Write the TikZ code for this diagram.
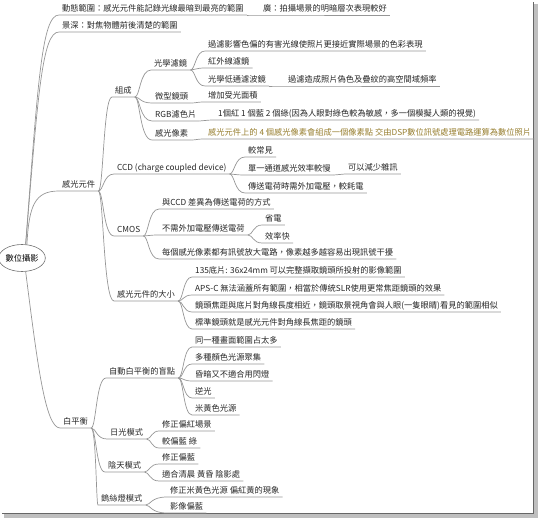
\documentclass[tikz,border=0pt]{standalone}
\usepackage{fontspec}
\newfontfamily\tcfont{Noto Sans CJK TC}
\usetikzlibrary{calc,shapes.geometric}

\definecolor{linkgray}{RGB}{150,150,150}
\definecolor{notebrown}{RGB}{150,125,45}

\tikzset{
  topic/.style={anchor=south west, inner xsep=3pt, inner ysep=2pt,
    text height=7pt, text depth=1.5pt, text=black!85,
    font=\tcfont\fontsize{8.25}{10}\selectfont},
  center topic/.style={ellipse, draw=black!55, line width=0.6pt,
    minimum width=44pt, minimum height=27pt, inner sep=0pt,
    font=\tcfont\fontsize{8.25}{10}\selectfont},
  link/.style={draw=linkgray, line width=0.7pt},
  twig/.style={link, to path={(\tikztostart.south east)
      .. controls ($(\tikztostart.south east)+(5,0)$)
      and ($(\tikztostart.south east |- \tikztotarget.south west)+(5,0)$)
      .. (\tikztotarget.south west) -- (\tikztotarget.south east)}}
}

\begin{document}
\begin{tikzpicture}[x=1pt,y=-1pt,every edge/.style={twig}]
    \useasboundingbox (0,0) rectangle (538,518);
    % frame with shadow
    \fill[black!25] (534,4) rectangle (538,518);
    \fill[black!25] (4,514) rectangle (538,518);
    \draw[black!60,line width=1.5pt] (533.5,2) -- (533.5,513.5) -- (2,513.5);

    \node[center topic] (root) at (22,258) {數位攝影};

    \node[topic] (dyn)    at (59,15)  {動態範圍：感光元件能記錄光線最暗到最亮的範圍};
    \node[topic] (wide)   at (260,15) {廣：拍攝場景的明暗層次表現較好};
    \node[topic] (dof)    at (59,32)  {景深：對焦物體前後清楚的範圍};
    \node[topic] (sensor) at (59,191) {感光元件};
    \node[topic] (wb)     at (60,428) {白平衡};

    % 感光元件
    \node[topic] (compose) at (112,97)  {組成};
    \node[topic] (ccd)     at (114,174) {CCD (charge coupled device)};
    \node[topic] (cmos)    at (114,236) {CMOS};
    \node[topic] (size)    at (114,301) {感光元件的大小};

    \node[topic] (filter) at (151,70)  {光學濾鏡};
    \node[topic] (micro)  at (152,103) {微型鏡頭};
    \node[topic] (rgb)    at (152,121) {RGB濾色片};
    \node[topic] (pixel)  at (152,140) {感光像素};

    \node[topic] (filtA)      at (205,51)  {過濾影響色偏的有害光線使照片更接近實際場景的色彩表現};
    \node[topic] (filtIR)     at (205,68)  {紅外線濾鏡};
    \node[topic] (filtLP)     at (205,86)  {光學低通濾波鏡};
    \node[topic] (filtLPnote) at (285,86)  {過濾造成照片偽色及疊紋的高空間域頻率};
    \node[topic] (microA)     at (205,102) {增加受光面積};
    \node[topic] (rgbA)       at (215,120) {1個紅 1 個藍 2 個綠(因為人眼對綠色較為敏感，多一個模擬人類的視覺)};
    \node[topic,text=notebrown] (pixelA) at (205,139) {感光元件上的 4 個感光像素會組成一個像素點 交由DSP數位訊號處理電路運算為數位照片};

    \node[topic] (ccdA)     at (245,157) {較常見};
    \node[topic] (ccdB)     at (245,175) {單一通道感光效率較慢};
    \node[topic] (ccdBnote) at (345,174) {可以減少雜訊};
    \node[topic] (ccdC)     at (245,193) {傳送電荷時需外加電壓，較耗電};

    \node[topic] (cmosA)  at (159,209) {與CCD 差異為傳送電荷的方式};
    \node[topic] (cmosB)  at (159,235) {不需外加電壓傳送電荷};
    \node[topic] (cmosBa) at (262,225) {省電};
    \node[topic] (cmosBb) at (262,243) {效率快};
    \node[topic] (cmosC)  at (159,259) {每個感光像素都有訊號放大電路，像素越多越容易出現訊號干擾};

    \node[topic] (sizeA) at (192,277) {135底片: 36x24mm 可以完整擷取鏡頭所投射的影像範圍};
    \node[topic] (sizeB) at (192,295) {APS-C 無法涵蓋所有範圍，相當於傳統SLR使用更常焦距鏡頭的效果};
    \node[topic] (sizeC) at (192,312) {鏡頭焦距與底片對角線長度相近，鏡頭取景視角會與人眼(一隻眼睛)看見的範圍相似};
    \node[topic] (sizeD) at (192,329) {標準鏡頭就是感光元件對角線長焦距的鏡頭};

    % 白平衡
    \node[topic] (awb)  at (106,378) {自動白平衡的盲點};
    \node[topic] (awbA) at (192,347) {同一種畫面範圍占太多};
    \node[topic] (awbB) at (192,364) {多種顏色光源聚集};
    \node[topic] (awbC) at (192,381) {昏暗又不適合用閃燈};
    \node[topic] (awbD) at (192,398) {逆光};
    \node[topic] (awbE) at (192,415) {米黃色光源};

    \node[topic] (day)    at (107,439) {日光模式};
    \node[topic] (dayA)   at (159,431) {修正偏紅場景};
    \node[topic] (dayB)   at (159,448) {較偏藍 綠};
    \node[topic] (cloud)  at (105,472) {陰天模式};
    \node[topic] (cloudA) at (159,464) {修正偏藍};
    \node[topic] (cloudB) at (159,481) {適合清晨 黃昏 陰影處};
    \node[topic] (tung)   at (98,505)  {鎢絲燈模式};
    \node[topic] (tungA)  at (167,497) {修正米黃色光源 偏紅黃的現象};
    \node[topic] (tungB)  at (167,513) {影像偏藍};

    % main branches
    \draw[link] (root.75) .. controls (38,80) and (42,15) .. (dyn.south west) -- (dyn.south east);
    \draw[link] (root.75) .. controls (38,95) and (42,32) .. (dof.south west) -- (dof.south east);
    \draw[link] (root.70) .. controls (29,205) and (35,191) .. (sensor.south west) -- (sensor.south east);
    \draw[link] (root.-75) .. controls (37,360) and (45,428) .. (wb.south west) -- (wb.south east);

    \path (dyn)     edge (wide)
          (sensor)  edge (compose)
                    edge (ccd)
                    edge (cmos)
                    edge (size)
          (compose) edge (filter)
                    edge (micro)
                    edge (rgb)
                    edge (pixel)
          (filter)  edge (filtA)
                    edge (filtIR)
                    edge (filtLP)
          (filtLP)  edge (filtLPnote)
          (micro)   edge (microA)
          (rgb)     edge (rgbA)
          (pixel)   edge (pixelA)
          (ccd)     edge (ccdA)
                    edge (ccdB)
                    edge (ccdC)
          (ccdB)    edge (ccdBnote)
          (cmos)    edge (cmosA)
                    edge (cmosB)
                    edge (cmosC)
          (cmosB)   edge (cmosBa)
                    edge (cmosBb)
          (size)    edge (sizeA)
                    edge (sizeB)
                    edge (sizeC)
                    edge (sizeD);
    \path (wb)      edge (awb)
                    edge (day)
                    edge (cloud)
                    edge (tung)
          (awb)     edge (awbA)
                    edge (awbB)
                    edge (awbC)
                    edge (awbD)
                    edge (awbE)
          (day)     edge (dayA)
                    edge (dayB)
          (cloud)   edge (cloudA)
                    edge (cloudB)
          (tung)    edge (tungA)
                    edge (tungB);
\end{tikzpicture}
\end{document}
